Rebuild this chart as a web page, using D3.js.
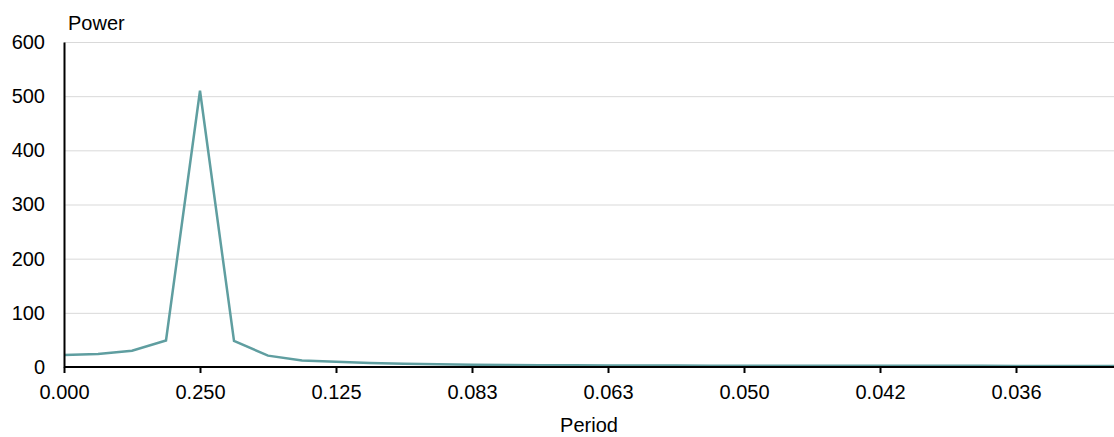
<!DOCTYPE html>
<html>
<head>
<meta charset="utf-8">
<script src="https://cdn.jsdelivr.net/npm/d3@7"></script>
<style>
  body { margin: 0; background: #fff; }
  svg { display: block; font-family: "Liberation Sans", Arial, sans-serif; }
</style>
</head>
<body>
<svg id="chart" width="1114" height="437"></svg>
<script>
// frequency index (k) and spectral power
const freqIndex = d3.range(0, 32);
const power = [22, 24, 30, 49, 510, 48, 21, 12, 9.5, 7.5, 6, 5, 4.3, 3.8, 3.4, 3.1,
               2.9, 2.7, 2.6, 2.5, 2.4, 2.3, 2.3, 2.2, 2.2, 2.1, 2.1, 2.1, 2, 2, 2, 2];
const xTicks = [0, 4, 8, 12, 16, 20, 24, 28];
const yTicks = [0, 100, 200, 300, 400, 500, 600];

const svg = d3.select("#chart");
const margin = { top: 42, left: 64, bottom: 70 };
const H = 437;

const x = d3.scaleLinear().domain([0, 31]).range([margin.left, margin.left + 31 * 34]);
const y = d3.scaleLinear().domain([0, 600]).range([H - margin.bottom, margin.top]);

// grid
svg.append("g")
  .selectAll("line")
  .data(yTicks.filter(d => d > 0))
  .join("line")
  .attr("x1", margin.left).attr("x2", 1114)
  .attr("y1", d => y(d) + 0.5).attr("y2", d => y(d) + 0.5)
  .attr("stroke", "#d9d9d9").attr("stroke-width", 1);

// line
const line = d3.line().x((d, i) => x(freqIndex[i])).y(d => y(d));
svg.append("path")
  .datum(power)
  .attr("d", line)
  .attr("fill", "none")
  .attr("stroke", "#5f9ea0")
  .attr("stroke-width", 2.5)
  .attr("stroke-linejoin", "miter");

// x axis
const xAxis = svg.append("g")
  .attr("transform", `translate(0,${y(0)})`)
  .call(d3.axisBottom(x).tickValues(xTicks).tickSize(6).tickPadding(12)
    .tickFormat(d => d === 0 ? "0.000" : d3.format(".3f")(1 / d)));
xAxis.select(".domain").attr("d", `M${margin.left},0H1114`).attr("stroke", "#000").attr("stroke-width", 2);
xAxis.selectAll(".tick line").attr("stroke", "#000").attr("stroke-width", 2);
xAxis.selectAll("text").attr("font-size", 20).attr("fill", "#000").attr("font-family", null);

// y axis
const yAxis = svg.append("g")
  .attr("transform", `translate(${margin.left},0)`)
  .call(d3.axisLeft(y).tickValues(yTicks).tickSize(0).tickPadding(19));
yAxis.select(".domain").attr("stroke", "#000").attr("stroke-width", 2);
yAxis.selectAll("text").attr("font-size", 20).attr("fill", "#000").attr("font-family", null);

// titles
svg.append("text")
  .attr("x", 68).attr("y", 30)
  .attr("font-size", 20)
  .text("Power");

svg.append("text")
  .attr("x", (margin.left + 1114) / 2).attr("y", 432)
  .attr("text-anchor", "middle")
  .attr("font-size", 20)
  .text("Period");
</script>
</body>
</html>
